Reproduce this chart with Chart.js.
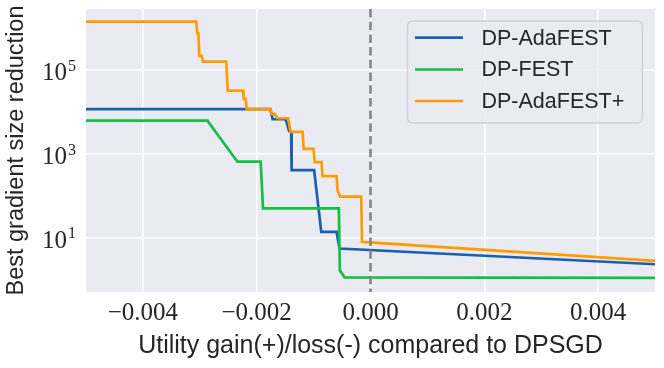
<!DOCTYPE html>
<html><head><meta charset="utf-8">
<script src="https://cdn.jsdelivr.net/npm/chart.js@4"></script>
<style>html,body{margin:0;padding:0;background:#fff}#wrap{width:664px;height:368px}</style>
</head><body><div id="wrap"><canvas id="c" width="664" height="368"></canvas></div>
<script>
// ---- data ----
const seriesNames = ['DP-AdaFEST', 'DP-FEST', 'DP-AdaFEST+'];

const adafestX = [-0.005, -0.001763, -0.001719, -0.001491, -0.001430, -0.001395, -0.001386, -0.000991, -0.000865, -0.000596, -0.000544, 0.005];
const adafestY = [11700, 11700, 6750, 6750, 3550, 3360, 415, 415, 13.9, 13.9, 5.58, 2.35];

const festX = [-0.005, -0.002865, -0.002339, -0.001930, -0.001889, -0.000556, -0.000539, -0.000456, 0.005];
const festY = [6250, 6250, 655, 655, 50.4, 50.4, 1.69, 1.15, 1.11];

const adafestPlusX = [-0.005, -0.003061, -0.003044, -0.003026, -0.003009, -0.002965, -0.002947, -0.002535, -0.002509, -0.002240, -0.002228, -0.002193, -0.002175, -0.001754, -0.001737, -0.001684, -0.001637, -0.001447, -0.001404, -0.001193, -0.001175, -0.001000, -0.000982, -0.000860, -0.000842, -0.000596, -0.000579, -0.000535, -0.000163, -0.000149, 0.005];
const adafestPlusY = [1.43e6, 1.43e6, 7.57e5, 7.57e5, 2.2e5, 2.2e5, 1.6e5, 1.6e5, 3.25e4, 3.25e4, 2.06e4, 2.06e4, 1.17e4, 1.17e4, 9040, 9040, 7130, 7130, 3360, 3360, 1320, 1320, 644, 644, 298, 298, 138, 96.5, 96.5, 8.02, 2.82];

const xTickValues = [-0.004, -0.002, 0, 0.002, 0.004];
const xTickLabels = ['\u22120.004', '\u22120.002', '0.000', '0.002', '0.004'];
const yTickValues = [10, 1000, 100000];
const yTickBase = '10';
const yTickExponents = ['1', '3', '5'];

const xMin = -0.005, xMax = 0.005;
const yMin = 0.5128, yMax = 2.869e6;
const refLineX = [0, 0];
const refLineY = [yMax, yMin];

const xTitle = 'Utility gain(+)/loss(-) compared to DPSGD';
const yTitle = 'Best gradient size reduction';

// ---- build ----
const toPts = (xs, ys) => xs.map((x, i) => ({x, y: ys[i]}));
const colors = ['#1a60ae', '#12c143', '#ff9d00'];
const TEXT = '#262626';
const SANS = '"Liberation Sans", Arial, sans-serif';
const SERIF = '"Liberation Serif", "Times New Roman", serif';

const bgPlugin = {
  id: 'bg',
  beforeDraw(chart) {
    const {ctx, chartArea: a} = chart;
    ctx.save();
    ctx.fillStyle = '#EAEAF2';
    ctx.fillRect(a.left, a.top, a.right - a.left, a.bottom - a.top);
    ctx.restore();
  }
};

const yTickPlugin = {
  id: 'ytk',
  afterDraw(chart) {
    const s = chart.scales.y, ctx = chart.ctx;
    ctx.save();
    ctx.fillStyle = TEXT;
    ctx.textBaseline = 'alphabetic';
    yTickValues.forEach((v, i) => {
      const y = s.getPixelForValue(v);
      ctx.font = '25px ' + SERIF;
      ctx.textAlign = 'right';
      ctx.fillText(yTickBase, 67, y + 10);
      ctx.font = '16px ' + SERIF;
      ctx.textAlign = 'left';
      ctx.fillText(yTickExponents[i], 68, y + 0.5);
    });
    ctx.restore();
  }
};

const legendPlugin = {
  id: 'lgd',
  afterDraw(chart) {
    const ctx = chart.ctx;
    const bx = 407.5, by = 21, bw = 235, bh = 102, r = 5;
    ctx.save();
    ctx.beginPath();
    ctx.moveTo(bx + r, by);
    ctx.arcTo(bx + bw, by, bx + bw, by + bh, r);
    ctx.arcTo(bx + bw, by + bh, bx, by + bh, r);
    ctx.arcTo(bx, by + bh, bx, by, r);
    ctx.arcTo(bx, by, bx + bw, by, r);
    ctx.closePath();
    ctx.fillStyle = 'rgba(234,234,242,0.85)';
    ctx.fill();
    ctx.strokeStyle = '#cfcfd4';
    ctx.lineWidth = 1.3;
    ctx.stroke();
    const items = chart.data.datasets.filter(d => seriesNames.includes(d.label));
    const rowY = [37.7, 69.5, 101];
    ctx.font = '21.5px ' + SANS;
    ctx.textBaseline = 'middle';
    ctx.textAlign = 'left';
    items.forEach((d, i) => {
      const y = rowY[i];
      ctx.beginPath();
      ctx.moveTo(415, y);
      ctx.lineTo(463, y);
      ctx.strokeStyle = d.borderColor;
      ctx.lineWidth = 2.7;
      ctx.stroke();
      ctx.fillStyle = TEXT;
      ctx.fillText(d.label, 481.5, y + 1);
    });
    ctx.restore();
  }
};

const mk = (label, xs, ys, color, order) => ({
  label, data: toPts(xs, ys), borderColor: color, backgroundColor: color,
  borderWidth: 2.7, pointRadius: 0, tension: 0, fill: false, order
});

new Chart(document.getElementById('c'), {
  type: 'line',
  data: {
    datasets: [
      mk(seriesNames[0], adafestX, adafestY, colors[0], 3),
      mk(seriesNames[1], festX, festY, colors[1], 2),
      mk(seriesNames[2], adafestPlusX, adafestPlusY, colors[2], 1),
      {
        label: 'ref', data: toPts(refLineX, refLineY), borderColor: '#858585',
        borderWidth: 2.6, borderDash: [8.5, 4.2], pointRadius: 0, fill: false, order: 0
      }
    ]
  },
  options: {
    responsive: false,
    animation: false,
    devicePixelRatio: 1,
    layout: {padding: {top: 9, right: 9, left: 0, bottom: 0}},
    plugins: {legend: {display: false}, tooltip: {enabled: false}},
    scales: {
      x: {
        type: 'linear', min: xMin, max: xMax, bounds: 'data',
        afterBuildTicks(s) { s.ticks = xTickValues.map(v => ({value: v})); },
        afterFit(s) { s.height = 76; },
        grid: {color: '#ffffff', lineWidth: 1.5, drawTicks: false},
        border: {display: false},
        ticks: {
          padding: 6, color: TEXT, font: {family: SERIF, size: 25}, maxRotation: 0, autoSkip: false,
          callback(v) { const i = xTickValues.findIndex(t => Math.abs(t - v) < 1e-9); return i >= 0 ? xTickLabels[i] : ''; }
        },
        title: {display: true, text: xTitle, color: TEXT, font: {family: SANS, size: 25, lineHeight: 1.2}, padding: {top: 0, bottom: 7}}
      },
      y: {
        type: 'logarithmic', min: yMin, max: yMax, bounds: 'data',
        afterBuildTicks(s) { s.ticks = yTickValues.map(v => ({value: v})); },
        afterFit(s) { s.width = 86; },
        grid: {color: '#ffffff', lineWidth: 1.5, drawTicks: false},
        border: {display: false},
        ticks: {display: false},
        title: {display: true, text: yTitle, color: TEXT, font: {family: SANS, size: 23.5, lineHeight: 1.2}, padding: {top: 2.5, bottom: 0}}
      }
    }
  },
  plugins: [bgPlugin, yTickPlugin, legendPlugin]
});
</script>
</body></html>
